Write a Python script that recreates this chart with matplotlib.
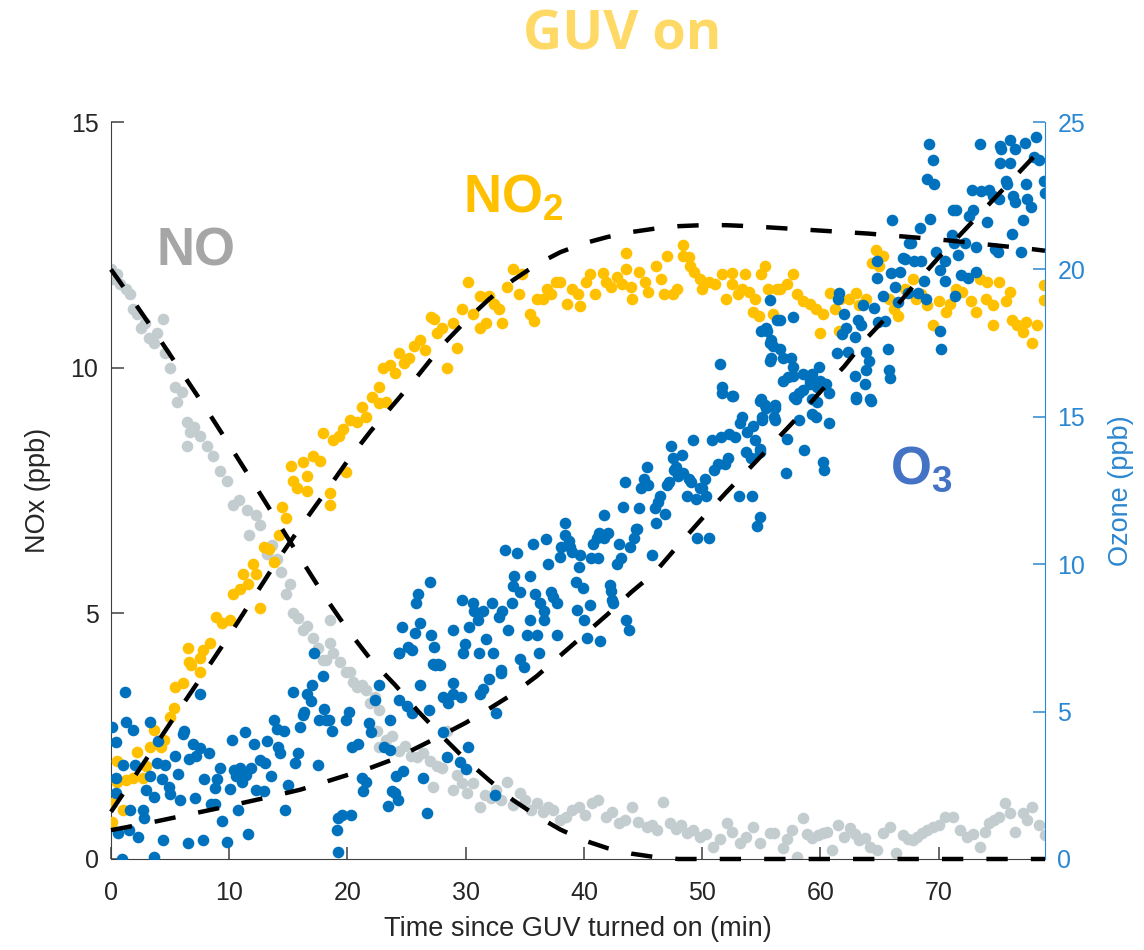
import numpy as np
import matplotlib
matplotlib.use("Agg")
import matplotlib.pyplot as plt

plt.rcParams['font.family'] = ['Liberation Sans', 'DejaVu Sans']

# ---- NO (ppb) ----
no_t = [0.0, 0.2, 0.5, 0.8, 1.3, 1.6, 1.9, 2.2, 2.5, 2.9, 3.2, 3.6, 3.9, 4.4, 4.6, 5.0, 5.4, 5.6,
        6.0, 6.4, 6.7, 7.0, 6.4, 7.5, 8.1, 8.6, 9.2, 9.8, 10.3, 10.8, 11.5, 11.7, 12.3, 12.6, 13.2,
        13.6, 14.0, 14.4, 14.8, 15.1, 15.4, 15.8, 16.2, 16.6, 17.1, 17.5, 17.9, 18.2, 18.5, 18.5,
        18.8, 19.4, 19.9, 20.2, 20.5, 20.8, 21.2, 21.6, 21.9, 22.3, 22.7, 22.5, 23.3, 22.7, 23.8,
        24.4, 24.9, 25.4, 25.9, 26.4, 27.0, 27.2, 27.6, 28.0, 28.4, 28.9, 29.3, 29.7, 30.1, 30.6,
        31.2, 31.6, 32.1, 32.6, 33.0, 33.5, 34.0, 34.6, 35.0, 35.5, 36.0, 36.5, 37.0, 37.4, 38.0,
        38.5, 39.0, 39.6, 40.1, 40.7, 41.2, 41.9, 42.4, 43.0, 43.5, 44.1, 44.6, 45.3, 45.8, 46.2,
        46.7, 47.3, 47.8, 48.2, 48.7, 49.2, 49.8, 50.3, 50.9, 51.5, 52.1, 52.5, 53.2, 53.7, 54.3,
        54.9, 55.7, 56.1, 56.8, 57.2, 57.6, 58.0, 58.5, 58.9, 59.3, 59.8, 60.2, 60.6, 61.0, 61.5,
        62.0, 62.5, 62.9, 63.3, 63.8, 64.2, 64.8, 65.3, 65.9, 66.4, 67.0, 67.4, 67.8, 68.2, 68.6,
        69.0, 69.5, 70.0, 70.5, 71.2, 71.8, 72.4, 72.9, 73.5, 73.9, 74.3, 74.7, 75.1, 75.6, 76.0,
        76.5, 77.1, 77.5, 77.9, 78.5, 79.0]
no_v = [12.0, 11.8, 11.9, 11.7, 11.6, 11.5, 11.2, 11.1, 10.8, 10.9, 10.6, 10.5, 10.7, 11.0, 10.3,
        10.0, 9.6, 9.3, 9.5, 8.9, 8.7, 8.8, 8.4, 8.6, 8.4, 8.2, 7.9, 7.7, 7.2, 7.3, 7.1, 6.6, 7.0,
        6.8, 6.2, 6.4, 6.1, 5.85, 5.4, 5.6, 5.0, 4.9, 4.66, 4.75, 4.5, 4.3, 4.05, 4.05, 4.87, 4.4,
        4.2, 4.0, 3.8, 3.8, 3.6, 3.5, 3.55, 3.44, 3.17, 3.3, 3.03, 2.6, 2.42, 2.28, 2.5, 2.2, 2.3,
        2.1, 2.08, 2.15, 2.0, 1.47, 1.9, 1.85, 2.6, 1.4, 1.7, 1.55, 1.34, 1.55, 1.06, 1.3, 1.25,
        1.4, 1.2, 1.57, 1.1, 1.34, 1.2, 1.0, 1.14, 0.95, 1.05, 1.0, 0.8, 0.86, 1.0, 1.06, 0.9,
        1.14, 1.2, 0.86, 0.95, 0.73, 0.8, 1.06, 0.75, 0.65, 0.7, 0.6, 1.16, 0.73, 0.62, 0.7, 0.53,
        0.6, 0.45, 0.5, 0.24, 0.4, 0.73, 0.55, 0.33, 0.45, 0.65, 0.33, 0.53, 0.53, 0.22, 0.4, 0.59,
        0.04, 0.83, 0.5, 0.43, 0.48, 0.53, 0.55, 0.18, 0.69, 0.45, 0.63, 0.5, 0.39, 0.42, 0.24,
        0.18, 0.53, 0.65, 0.12, 0.49, 0.4, 0.39, 0.45, 0.53, 0.6, 0.65, 0.7, 0.86, 0.86, 0.59,
        0.45, 0.5, 0.24, 0.55, 0.73, 0.8, 0.86, 1.14, 0.94, 0.55, 0.94, 0.8, 1.06, 0.69, 0.49]

# ---- NO2 (ppb) ----
no2_t = [0.1, 0.1, 0.5, 0.5, 1.0, 1.3, 1.9, 2.2, 2.7, 3.0, 3.3, 3.6, 4.2, 4.5, 5.0, 5.3, 5.4, 6.1,
         6.5, 6.6, 6.8, 7.5, 7.5, 7.8, 8.4, 8.9, 9.4, 10.1, 10.3, 10.9, 11.2, 11.6, 12.0, 12.3,
         12.6, 12.9, 13.4, 13.8, 14.2, 14.5, 14.8, 15.2, 15.4, 15.7, 16.2, 16.6, 16.6, 17.1, 17.7,
         17.9, 18.5, 18.5, 18.8, 19.3, 19.6, 19.9, 20.2, 20.8, 21.2, 21.6, 22.1, 22.7, 22.7, 23.0,
         23.3, 23.6, 24.0, 24.4, 24.8, 25.2, 25.6, 26.1, 26.6, 27.1, 27.3, 27.6, 28.0, 28.4, 28.9,
         29.3, 29.7, 30.2, 30.6, 31.2, 31.2, 31.7, 32.0, 32.4, 32.8, 33.1, 33.5, 34.0, 34.5, 34.8,
         35.4, 35.8, 36.0, 36.5, 36.9, 37.2, 37.6, 38.0, 38.6, 39.0, 39.5, 39.7, 40.2, 40.5, 40.9,
         41.6, 41.9, 42.3, 42.8, 43.2, 43.6, 43.6, 44.0, 44.1, 44.7, 45.2, 45.4, 46.1, 46.5, 46.8,
         47.0, 47.5, 47.9, 48.4, 48.4, 48.9, 49.0, 49.3, 49.8, 50.0, 50.6, 51.1, 51.7, 52.0, 52.5,
         52.5, 53.0, 53.4, 53.6, 54.0, 54.3, 54.5, 54.8, 55.0, 55.3, 55.6, 56.0, 56.3, 56.6, 57.2,
         57.7, 58.0, 58.5, 59.1, 59.6, 60.0, 60.2, 60.8, 61.2, 61.6, 61.7, 62.4, 63.0, 63.3, 63.9,
         64.4, 64.7, 65.0, 65.3, 65.8, 66.2, 66.6, 67.2, 67.8, 68.1, 68.5, 69.0, 69.5, 70.0, 70.6,
         71.0, 71.5, 72.0, 72.7, 73.2, 73.5, 74.0, 74.1, 74.6, 74.6, 75.1, 75.7, 76.0, 76.2, 76.6,
         77.1, 77.4, 77.9, 78.3, 78.9, 78.9]
no2_v = [0.75, 1.14, 2.0, 1.57, 1.0, 1.6, 1.64, 2.18, 1.65, 1.9, 2.28, 2.63, 2.28, 2.43, 2.9, 3.07,
         3.5, 3.58, 4.3, 4.0, 3.95, 3.81, 4.1, 4.26, 4.4, 4.93, 4.8, 4.87, 5.4, 5.5, 5.8, 5.6, 6.0,
         5.8, 5.1, 6.35, 6.3, 6.05, 6.6, 7.17, 6.95, 8.0, 7.7, 7.56, 8.07, 7.8, 7.5, 8.2, 8.1, 8.67,
         7.45, 7.2, 8.53, 8.6, 8.75, 7.88, 8.94, 8.9, 9.2, 9.0, 9.4, 9.28, 9.6, 10.0, 9.3, 10.05,
         9.9, 10.3, 10.1, 10.2, 10.45, 10.57, 10.35, 11.04, 11.0, 10.7, 10.8, 10.0, 10.9, 10.4,
         11.2, 11.75, 11.1, 11.45, 10.8, 10.9, 11.45, 11.3, 11.2, 10.9, 11.65, 12.0, 11.5, 11.9,
         11.1, 10.95, 11.4, 11.4, 11.6, 11.5, 11.75, 11.75, 11.3, 11.6, 11.5, 11.25, 11.75, 11.9,
         11.5, 11.93, 11.75, 11.65, 11.85, 11.7, 12.34, 12.0, 11.65, 11.4, 11.95, 11.75, 11.55,
         12.06, 11.8, 11.5, 12.27, 11.5, 11.6, 12.5, 12.28, 12.25, 12.06, 11.95, 11.8, 11.6, 11.75,
         11.7, 11.9, 11.4, 11.93, 11.7, 11.5, 11.6, 11.9, 11.55, 11.13, 11.4, 11.06, 11.9, 12.06,
         11.6, 11.1, 11.6, 11.6, 11.7, 11.9, 11.5, 11.35, 11.3, 11.2, 10.7, 11.1, 11.52, 11.2,
         10.75, 11.4, 11.4, 11.52, 11.27, 11.4, 12.14, 12.4, 12.07, 12.27, 11.4, 11.2, 11.06, 11.6,
         11.8, 11.4, 11.5, 11.27, 10.86, 11.35, 11.13, 11.3, 11.6, 11.55, 11.35, 11.13, 11.8, 11.4,
         11.75, 11.27, 10.86, 11.75, 11.35, 11.55, 10.98, 10.86, 10.72, 10.93, 10.5, 10.86, 11.68,
         11.37]

# ---- O3 (ppb) ----
o3_t = [0.1, 0.4, 0.4, 0.4, 0.6, 0.9, 1.0, 1.2, 1.3, 1.5, 1.6, 1.9, 2.0, 2.3, 2.7, 2.8, 3.0, 3.3,
        3.3, 3.6, 3.6, 3.9, 4.0, 4.3, 4.4, 4.6, 4.9, 5.0, 5.4, 5.7, 5.8, 6.1, 6.2, 6.5, 6.6, 6.9,
        7.1, 7.2, 7.5, 7.5, 7.8, 7.9, 8.3, 8.5, 8.8, 8.8, 9.0, 9.2, 9.4, 9.8, 10.1, 10.2, 10.4,
        10.6, 10.7, 10.9, 11.1, 11.3, 11.4, 11.6, 11.8, 12.1, 12.3, 12.6, 12.9, 13.0, 13.2, 13.5,
        13.8, 14.0, 14.1, 14.3, 14.6, 14.7, 15.0, 15.4, 15.6, 15.8, 16.0, 16.2, 16.3, 16.6, 16.9,
        17.0, 17.2, 17.5, 17.6, 17.9, 18.0, 18.2, 18.4, 18.7, 19.1, 19.2, 19.2, 19.5, 19.9, 20.1,
        20.3, 20.4, 20.9, 21.2, 21.3, 21.6, 21.8, 22.0, 22.3, 22.7, 23.1, 23.4, 23.6, 23.6, 23.8,
        24.0, 24.1, 24.3, 24.4, 24.4, 24.4, 24.6, 24.7, 25.0, 25.1, 25.5, 25.5, 25.7, 25.8, 26.0,
        26.1, 26.1, 26.4, 26.7, 26.9, 27.0, 27.1, 27.2, 27.3, 27.4, 27.7, 27.8, 28.1, 28.1, 28.4,
        28.5, 28.9, 28.9, 28.9, 29.5, 29.6, 29.7, 29.8, 29.9, 30.0, 30.2, 30.3, 30.6, 30.7, 31.0,
        31.1, 31.2, 31.5, 31.5, 31.7, 32.0, 32.2, 32.3, 32.5, 32.6, 32.8, 33.0, 33.0, 33.1, 33.3,
        33.6, 33.9, 34.0, 34.1, 34.3, 34.6, 34.6, 34.9, 35.2, 35.4, 35.4, 35.7, 35.9, 36.0, 36.2,
        36.3, 36.6, 36.6, 36.8, 37.0, 37.2, 37.4, 37.7, 37.7, 38.0, 38.1, 38.4, 38.4, 38.7, 38.8,
        39.0, 39.3, 39.4, 39.6, 39.7, 39.9, 40.0, 40.3, 40.5, 40.6, 40.8, 41.1, 41.2, 41.3, 41.4,
        41.7, 41.7, 42.0, 42.2, 42.3, 42.4, 42.5, 42.8, 43.0, 43.1, 43.3, 43.5, 43.6, 43.8, 43.9,
        44.2, 44.4, 44.5, 44.7, 44.8, 45.1, 45.3, 45.4, 45.8, 46.0, 46.1, 46.3, 46.4, 46.9, 47.0,
        47.2, 47.4, 47.5, 47.6, 47.8, 48.0, 48.3, 48.4, 48.7, 48.9, 49.1, 49.2, 49.5, 49.6, 49.8,
        50.0, 50.2, 50.3, 50.6, 50.8, 51.0, 51.3, 51.5, 51.6, 51.7, 51.7, 51.9, 52.2, 52.3, 52.5,
        52.6, 52.8, 53.1, 53.2, 53.4, 53.7, 53.8, 54.1, 54.2, 54.3, 54.5, 54.6, 54.9, 54.9, 54.9,
        54.9, 55.0, 55.0, 55.1, 55.1, 55.3, 55.4, 55.4, 55.5, 55.7, 55.7, 55.7, 55.8, 55.8, 56.0,
        56.1, 56.2, 56.2, 56.2, 56.3, 56.6, 56.6, 56.8, 56.8, 57.1, 57.2, 57.3, 57.5, 57.7, 57.7,
        57.7, 57.8, 57.9, 58.2, 58.2, 58.5, 58.5, 58.6, 59.1, 59.1, 59.3, 59.3, 59.3, 59.6, 59.7,
        59.7, 59.9, 60.0, 60.2, 60.3, 60.4, 60.5, 60.7, 60.7, 61.4, 61.5, 61.6, 61.8, 62.0, 62.2,
        62.3, 62.9, 62.9, 63.0, 63.0, 63.2, 63.4, 63.6, 63.8, 63.9, 63.9, 64.1, 64.2, 64.3, 64.5,
        64.8, 64.8, 64.9, 65.3, 65.5, 65.7, 65.8, 65.9, 66.0, 66.1, 66.3, 66.6, 66.7, 67.0, 67.2,
        67.4, 67.5, 67.7, 67.9, 68.3, 68.4, 68.5, 68.8, 68.9, 69.0, 69.2, 69.3, 69.5, 69.6, 69.8,
        70.1, 70.1, 70.2, 70.5, 70.5, 71.1, 71.2, 71.3, 71.4, 71.5, 71.6, 71.9, 72.2, 72.5, 72.6,
        72.8, 72.9, 73.2, 73.2, 73.5, 73.6, 74.1, 74.3, 74.6, 74.8, 75.0, 75.1, 75.2, 75.2, 75.3,
        75.7, 75.8, 76.0, 76.0, 76.2, 76.3, 76.5, 76.5, 77.0, 77.1, 77.3, 77.4, 77.5, 77.8, 78.1,
        78.2, 78.5, 78.9, 79.0]
o3_v = [4.47, 3.97, 2.75, 2.24, 0.88, 0.0, 3.19, 5.66, 4.64, 0.98, 1.66, 4.37, 3.19, 0.75, 1.66,
        1.4, 2.34, 4.64, 2.8, 0.07, 2.1, 3.25, 4.0, 2.7, 0.64, 3.2, 2.45, 2.2, 3.5, 2.9, 2.0, 4.25,
        4.35, 0.54, 3.4, 3.9, 2.07, 3.5, 3.75, 5.6, 0.64, 2.7, 3.6, 1.85, 2.4, 1.85, 2.7, 3.1, 1.3,
        0.58, 2.37, 4.04, 3.02, 2.8, 1.66, 3.08, 2.6, 4.3, 2.85, 0.85, 3.1, 3.9, 2.35, 3.37, 2.3,
        3.25, 4.0, 2.8, 4.7, 4.4, 3.8, 3.6, 4.35, 1.66, 2.5, 5.65, 3.25, 3.6, 4.47, 4.9, 5.0, 5.6,
        5.35, 5.9, 7.0, 3.2, 4.7, 6.2, 5.1, 4.7, 4.7, 4.35, 1.0, 1.4, 0.24, 1.5, 4.7, 5.0, 1.5,
        3.8, 3.9, 2.75, 2.3, 2.6, 4.6, 4.3, 5.4, 5.9, 3.8, 1.8, 4.7, 3.7, 2.3, 2.24, 2.8, 2.0, 7.0,
        5.4, 6.98, 7.87, 3.0, 5.2, 7.2, 4.95, 7.1, 7.66, 8.68, 9.0, 5.9, 8.0, 2.75, 1.55, 5.07,
        9.4, 7.6, 6.6, 7.2, 6.58, 6.6, 6.58, 5.5, 4.3, 3.46, 5.3, 5.97, 5.6, 7.76, 3.3, 5.5, 8.78,
        6.98, 7.3, 3.05, 3.8, 7.87, 8.68, 8.4, 8.1, 6.98, 5.6, 5.75, 8.4, 7.45, 6.1, 8.68, 7.0,
        2.17, 4.95, 8.2, 6.4, 6.3, 8.4, 10.47, 7.76, 8.68, 9.25, 9.6, 10.37, 9.07, 6.8, 6.5, 7.6,
        9.6, 8.1, 10.7, 9.0, 7.6, 7.0, 8.68, 8.4, 8.1, 10.87, 10.0, 9.07, 8.9, 8.68, 7.6, 10.25,
        10.6, 11.4, 10.98, 10.8, 10.6, 10.4, 9.4, 8.45, 9.9, 10.3, 9.2, 8.1, 7.5, 8.6, 10.2, 10.7,
        10.9, 10.2, 11.05, 7.4, 10.9, 11.66, 11.05, 9.3, 9.1, 8.8, 8.7, 10.0, 10.7, 10.2, 11.93,
        12.78, 8.1, 7.76, 10.6, 10.9, 11.2, 11.2, 11.9, 12.6, 12.9, 13.3, 12.7, 10.3, 11.9, 11.4,
        12.1, 12.3, 11.7, 12.7, 12.8, 14.0, 13.6, 13.2, 13.3, 13.0, 13.7, 13.1, 12.3, 12.9, 12.8,
        14.2, 12.2, 10.9, 12.6, 12.6, 12.9, 12.3, 10.9, 14.2, 13.2, 13.4, 16.8, 14.3, 15.8, 16.0,
        13.4, 13.6, 14.4, 15.7, 15.7, 14.3, 12.3, 14.8, 15.0, 13.8, 14.5, 13.6, 12.3, 14.7, 14.2,
        11.3, 13.8, 15.55, 13.9, 11.6, 15.6, 17.9, 14.9, 15.0, 15.4, 15.3, 18.0, 17.9, 17.5, 16.9,
        18.95, 17.6, 17.0, 17.4, 15.0, 15.4, 15.3, 14.9, 18.3, 18.3, 17.3, 17.0, 16.2, 13.1, 14.26,
        16.35, 17.0, 18.4, 16.7, 16.4, 15.66, 15.6, 15.8, 14.9, 16.45, 15.9, 13.86, 16.2, 16.1,
        16.45, 15.6, 15.1, 15.0, 16.0, 15.5, 16.7, 16.2, 13.46, 13.2, 16.1, 16.1, 15.8, 14.8,
        17.15, 19.0, 19.2, 17.8, 18.5, 18.0, 17.2, 17.7, 16.4, 15.67, 15.6, 18.3, 18.1, 18.8, 16.1,
        16.6, 17.2, 16.9, 15.6, 15.55, 18.7, 20.3, 19.7, 18.2, 19.1, 18.25, 17.3, 16.6, 16.3,
        19.87, 21.66, 19.4, 18.9, 19.9, 20.4, 20.35, 19.2, 20.9, 20.9, 20.3, 19.2, 21.4, 20.3,
        19.6, 19.0, 23.08, 24.27, 21.7, 23.7, 22.9, 20.6, 19.97, 17.9, 17.3, 20.3, 19.6, 21.15,
        22.0, 20.9, 19.1, 22.0, 20.5, 19.8, 20.9, 19.7, 21.8, 22.7, 22.0, 20.75, 19.9, 24.27,
        22.65, 21.6, 22.7, 22.5, 20.7, 20.6, 22.4, 24.2, 23.6, 24.1, 23.0, 22.9, 24.4, 23.6, 21.2,
        22.5, 24.1, 22.3, 20.6, 21.66, 24.3, 22.9, 22.4, 22.1, 23.8, 24.5, 23.7, 23.0, 22.6]

# ---- fitted trends ----
fit_t = [0, 2, 4, 6, 8, 10, 12, 14, 16, 18, 20, 22, 24, 26, 28, 30, 32, 34, 36, 38, 40, 42, 44,
         46, 48, 50, 52, 54, 56, 58, 60, 62, 64, 66, 68, 70, 72, 74, 76, 78, 79]
no_fit = [12.0, 11.32, 10.62, 9.9, 9.18, 8.43, 7.67, 6.9, 6.13, 5.37, 4.67, 4.05, 3.55, 3.0, 2.5,
          2.02, 1.6, 1.2, 0.88, 0.6, 0.38, 0.22, 0.11, 0.04, 0.0, 0, 0, 0, 0, 0, 0, 0, 0, 0, 0,
          0, 0, 0, 0, 0, 0]
no2_fit = [0.96, 1.68, 2.4, 3.12, 3.83, 4.55, 5.3, 6.05, 6.75, 7.42, 8.1, 8.72, 9.28, 9.85, 10.45,
           10.95, 11.4, 11.78, 12.1, 12.35, 12.53, 12.66, 12.76, 12.83, 12.88, 12.9, 12.9, 12.88,
           12.85, 12.82, 12.79, 12.76, 12.73, 12.69, 12.65, 12.61, 12.56, 12.51, 12.46, 12.41, 12.38]
o3_fit = [0.98, 1.13, 1.29, 1.46, 1.63, 1.8, 1.98, 2.16, 2.35, 2.6, 2.85, 3.1, 3.4, 3.8, 4.2, 4.62,
          5.1, 5.6, 6.2, 6.9, 7.6, 8.3, 9.05, 9.72, 10.65, 11.55, 12.42, 13.25, 14.1, 14.95, 15.85,
          16.7, 17.7, 18.55, 19.5, 20.4, 21.25, 22.1, 22.95, 23.8, 24.2]

x_ticks = [0, 10, 20, 30, 40, 50, 60, 70]
nox_ticks = [0, 5, 10, 15]
o3_ticks = [0, 5, 10, 15, 20, 25]

C_NO = '#C3CDD0'
C_NO2 = '#FFC000'
C_O3 = '#0072BD'
C_RAX = '#2B87D1'
C_TXT = '#262626'
C_AX = '#404040'

W, H = 1144, 950
fig = plt.figure(figsize=(W / 100, H / 100), dpi=100)
ax = fig.add_axes([111 / W, 1 - 859 / H, (1045 - 111) / W, (859 - 122) / H])
ax2 = ax.twinx()

ax.set_xlim(0, 79)
ax.set_ylim(0, 15)
ax2.set_ylim(0, 25)

ms = 70
ax.scatter(no_t, no_v, s=ms, color=C_NO, linewidths=0, zorder=2)
ax.scatter(no2_t, no2_v, s=ms, color=C_NO2, linewidths=0, zorder=3)
ax2.scatter(o3_t, o3_v, s=ms, color=C_O3, linewidths=0, zorder=2)

dash = dict(color='black', lw=3.2, dashes=(4.8, 5.2), zorder=5, clip_on=False)
ax2.plot(fit_t, no_fit, transform=ax.transData, **dash)
ax2.plot(fit_t, no2_fit, transform=ax.transData, **dash)
ax2.plot(fit_t, o3_fit, **dash)

# axes styling
for a in (ax, ax2):
    a.spines['top'].set_visible(False)
ax.spines['right'].set_visible(False)
ax.spines['left'].set_color(C_AX)
ax.spines['bottom'].set_color(C_AX)
ax2.spines['left'].set_visible(False)
ax2.spines['bottom'].set_visible(False)
ax2.spines['right'].set_color(C_RAX)

ax.set_xticks(x_ticks)
ax.set_yticks(nox_ticks)
ax2.set_yticks(o3_ticks)
ax.tick_params(axis='both', direction='in', length=9, width=1.1, color=C_AX,
               labelsize=18, labelcolor=C_TXT)
ax.tick_params(axis='x', pad=16)
ax.tick_params(axis='y', pad=9)
ax2.tick_params(axis='y', direction='in', length=9, width=1.1, color=C_RAX,
                labelsize=18, labelcolor=C_RAX, pad=9)

ax.set_xlabel('Time since GUV turned on (min)', fontsize=19.5, color=C_TXT, labelpad=8)
ax.set_ylabel('NOx (ppb)', fontsize=19.5, color=C_TXT, labelpad=14)
ax2.set_ylabel('Ozone (ppb)', fontsize=19.5, color=C_RAX, labelpad=16)

# species labels and title
fig.text(196 / W, 1 - 252 / H, 'NO', fontsize=38, fontweight='bold', color='#A6A6A6',
         ha='center', va='center')
fig.text(463 / W, 1 - 212 / H, r'NO$_\mathregular{2}$', fontsize=38, fontweight='bold',
         color=C_NO2, ha='left', va='baseline')
fig.text(890 / W, 1 - 484 / H, r'O$_\mathregular{3}$', fontsize=38, fontweight='bold',
         color='#4472C4', ha='left', va='baseline')
fig.text(622 / W, 1 - 35 / H, 'GUV on', fontsize=39, fontweight='bold', color='#FFD966',
         ha='center', va='center', family=['Open Sans', 'DejaVu Sans'])

fig.savefig('out.png', dpi=100)
